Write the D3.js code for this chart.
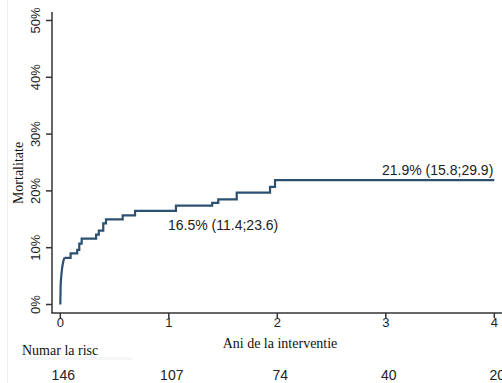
<!DOCTYPE html>
<html>
<head>
<meta charset="utf-8">
<script src="https://cdn.jsdelivr.net/npm/d3@7"></script>
<style>
  body { margin: 0; background: #fff; }
  svg { display: block; }
</style>
</head>
<body>
<div id="chart"></div>
<script>
// ─── DATA ─────────────────────────────────────────────────────────────────────

// step curve: [years, mortality %]
const curveTimes  = [0, 0.003, 0.01, 0.037, 0.095, 0.156, 0.175, 0.197, 0.33, 0.355, 0.396, 0.421, 0.575, 0.689, 1.066, 1.40, 1.456, 1.626, 1.933, 1.979, 4.0];
const curveValues = [0, 3.2,   5.2,  8.2,   9.0,   9.6,   10.7,  11.6,  12.3, 13.0,  14.3,  15.0,  15.7,  16.5,  17.4,  17.9, 18.5,  19.7,  20.7,  21.9,  21.9];

const yTicks = [0, 10, 20, 30, 40, 50];
const xTicks = [0, 1, 2, 3, 4];
const atRisk = [146, 107, 74, 40, 20];

const annotations = [
  { t: 1.0, text: "16.5% (11.4;23.6)", x: 168, y: 230 },
  { t: 4.0, text: "21.9% (15.8;29.9)", x: 382, y: 175 },
];

// ─── LAYOUT ───────────────────────────────────────────────────────────────────

const W = 502, H = 383;
const axisX = 52, axisY = 313;

const x = d3.scaleLinear().domain([0, 4]).range([60.3, 494.3]);
const y = d3.scaleLinear().domain([0, 50]).range([304.5, 20.5]);

const svg = d3.select("#chart").append("svg")
  .attr("width", W).attr("height", H);

// faint border at the left, as in the scan
svg.append("line")
  .attr("x1", 7.5).attr("x2", 7.5).attr("y1", 0).attr("y2", H)
  .attr("stroke", "#eeeeee");

const axisColor = "#333";
const sans = "Arial, 'Liberation Sans', sans-serif";
const serif = "'Times New Roman', 'Liberation Serif', serif";

// ── y axis ────────────────────────────────────────────────────────────────────
svg.append("line")
  .attr("x1", axisX).attr("x2", axisX).attr("y1", 12).attr("y2", axisY)
  .attr("stroke", axisColor).attr("stroke-width", 1.5);

const yg = svg.append("g");
yTicks.forEach(v => {
  yg.append("line")
    .attr("x1", 46).attr("x2", axisX).attr("y1", y(v)).attr("y2", y(v))
    .attr("stroke", axisColor).attr("stroke-width", 1.5);
  yg.append("text")
    .attr("transform", `translate(40,${y(v)}) rotate(-90)`)
    .attr("text-anchor", "middle")
    .style("font-family", sans).style("font-size", "13px").style("fill", "#222")
    .text(v + "%");
});

svg.append("text")
  .attr("transform", `translate(23,173) rotate(-90)`)
  .attr("text-anchor", "middle")
  .style("font-family", serif).style("font-size", "14px").style("fill", "#111")
  .text("Mortalitate");

// ── x axis ────────────────────────────────────────────────────────────────────
svg.append("line")
  .attr("x1", axisX - 0.75).attr("x2", W).attr("y1", axisY).attr("y2", axisY)
  .attr("stroke", axisColor).attr("stroke-width", 1.5);

const xg = svg.append("g");
xTicks.forEach(v => {
  xg.append("line")
    .attr("x1", x(v)).attr("x2", x(v)).attr("y1", axisY).attr("y2", axisY + 5)
    .attr("stroke", axisColor).attr("stroke-width", 1.5);
  xg.append("text")
    .attr("x", x(v)).attr("y", 327)
    .attr("text-anchor", "middle")
    .style("font-family", sans).style("font-size", "13px").style("fill", "#222")
    .text(v);
});

svg.append("text")
  .attr("x", 280).attr("y", 348)
  .attr("text-anchor", "middle")
  .style("font-family", serif).style("font-size", "14px").style("fill", "#111")
  .text("Ani de la interventie");

// ── number at risk ────────────────────────────────────────────────────────────
svg.append("rect")
  .attr("x", 20).attr("y", 357).attr("width", 112).attr("height", 3)
  .attr("fill", "#f6f6f6");

svg.append("text")
  .attr("x", 22).attr("y", 355)
  .style("font-family", serif).style("font-size", "14px").style("fill", "#111")
  .text("Numar la risc");

svg.append("g").selectAll("text")
  .data(atRisk)
  .join("text")
  .attr("x", (d, i) => x(xTicks[i]) + 3)
  .attr("y", 380)
  .attr("text-anchor", "middle")
  .style("font-family", sans).style("font-size", "14px").style("fill", "#222")
  .text(d => d);

// ── curve ─────────────────────────────────────────────────────────────────────
const pts = curveTimes.map((t, i) => [t, curveValues[i]]);
// first few points form a smooth rise, the rest are steps
const rise = pts.slice(0, 4);
const steps = pts.slice(3);

const riseLine = d3.line().x(d => x(d[0])).y(d => y(d[1])).curve(d3.curveMonotoneX);
const stepLine = d3.line().x(d => x(d[0])).y(d => y(d[1])).curve(d3.curveStepAfter);

svg.append("path")
  .attr("d", riseLine(rise))
  .attr("fill", "none").attr("stroke", "#2c5070").attr("stroke-width", 2.2);
svg.append("path")
  .attr("d", stepLine(steps))
  .attr("fill", "none").attr("stroke", "#2c5070").attr("stroke-width", 2.2)
  .attr("stroke-linejoin", "miter");

// ── annotations ───────────────────────────────────────────────────────────────
svg.append("g").selectAll("text")
  .data(annotations)
  .join("text")
  .attr("x", d => d.x).attr("y", d => d.y)
  .style("font-family", sans).style("font-size", "14px").style("fill", "#222")
  .text(d => d.text);
</script>
</body>
</html>
